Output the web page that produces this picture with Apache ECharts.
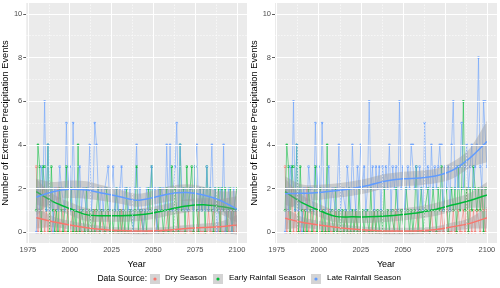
<!DOCTYPE html>
<html><head><meta charset="utf-8">
<script src="https://cdn.jsdelivr.net/npm/echarts@6/dist/echarts.min.js"></script>
<style>html,body{margin:0;padding:0;background:#fff}#c{width:500px;height:288px}</style>
</head><body><div id="c"></div>
<script>
// ---- data ----
const startYear = 1980;
// shared historical part 1980-2014
const histDry   = [3,0,1,0,2, 0,1,0,1,0, 0,1,0,2,0, 0,1,0,0,1, 0,0,1,0,0, 0,1,0,0,0, 1,0,0,0,0];
const histEarly = [1,4,3,0,3, 3,1,4,0,3, 1,0,1,0,2, 1,0,1,3,0, 1,2,0,1,0, 4,0,1,1,0, 2,0,1,0,1];
const histLate  = [0,2,1,3,2, 6,1,4,1,2, 0,2,2,1,3, 2,2,1,5,2, 3,1,5,2,1, 2,3,1,2,2, 1,2,4,1,2];
// left panel 2015-2100
const leftDry   = [1,0,0,0,1, 0,0,0,1,0, 0,0,0,0,0, 0,1,0,0,0, 0,0,0,0,0, 0,0,0,1,0, 0,0,0,0,0, 0,0,1,0,0, 0,0,0,0,1, 0,0,0,0,0, 1,0,0,0,0, 0,1,0,0,0, 0,0,1,0,0, 0,0,0,1,0, 0,1,0,0,0, 1,0,0,0,1, 0,0,1,0,1, 0];
const leftEarly = [0,1,2,0,1, 1,0,2,1,0, 1,0,1,2,0, 1,0,1,0,2, 0,1,1,0,1, 3,0,1,1,0, 1,0,2,1,3, 0,1,1,0,2, 1,0,1,2,0, 1,3,0,2,1, 0,4,1,2,0, 3,1,2,3,0, 3,1,0,2,1, 2,0,3,1,2, 1,0,2,1,2, 0,2,1,2,0, 1,2,0,1,1, 2];
const leftLate  = [5,4,2,1,2, 1,2,2,3,1, 2,3,1,2,1, 2,3,1,2,2, 1,2,1,0,2, 4,1,2,1,0, 1,2,1,2,3, 1,2,0,2,1, 2,2,1,4,1, 4,1,1,3,5, 1,4,2,1,2, 1,1,2,2,1, 3,4,1,2,1, 2,1,3,1,2, 4,1,2,0,1, 2,1,4,0,1, 2,1,0,2,1, 1];
// right panel 2015-2100
const rightDry   = [0,1,0,0,0, 0,0,1,0,0, 0,0,0,0,0, 0,0,0,1,0, 0,0,0,0,0, 0,0,0,0,0, 0,1,0,0,0, 0,0,0,0,0, 0,0,0,0,1, 0,0,0,0,0, 0,0,1,0,0, 0,0,0,1,0, 0,1,0,0,0, 1,0,0,1,0, 0,1,0,2,0, 1,0,1,0,1, 1,0,2,1,0, 1];
const rightEarly = [0,1,0,2,0, 1,0,1,0,2, 0,1,0,1,1, 0,2,0,1,0, 1,0,1,0,2, 0,1,0,1,1, 0,2,1,0,1, 1,0,2,1,0, 1,0,1,3,0, 1,2,0,1,1, 2,0,1,2,1, 0,2,1,3,1, 1,2,0,1,2, 1,2,0,3,1, 2,6,1,2,0, 2,1,3,2,1, 2,1,2,0,2, 2];
const rightLate  = [2,1,3,2,1, 4,2,1,3,2, 4,2,3,1,2, 6,2,3,1,3, 2,3,1,3,2, 3,2,4,1,3, 2,3,1,6,2, 3,1,2,3,2, 4,4,2,3,1, 3,2,1,5,2, 3,1,4,2,3, 2,3,4,4,1, 3,2,3,1,4, 6,2,3,2,3, 5,2,3,4,2, 3,4,2,3,4, 8,3,2,6,6, 3];
// smoothed fits (knots every 10 years, 1980-2100) and half widths of the bands
const smoothYears = [1980,1990,2000,2010,2020,2030,2040,2050,2060,2070,2080,2090,2100];
const leftDryFit    = [0.66,0.47,0.32,0.20,0.12,0.07,0.05,0.06,0.10,0.17,0.21,0.25,0.33];
const leftDryHw     = [0.50,0.25,0.20,0.18,0.15,0.15,0.15,0.15,0.15,0.15,0.18,0.22,0.45];
const leftEarlyFit  = [1.85,1.40,1.08,0.80,0.75,0.75,0.78,0.88,1.05,1.20,1.25,1.17,1.04];
const leftEarlyHw   = [0.60,0.35,0.30,0.30,0.28,0.28,0.28,0.28,0.28,0.30,0.30,0.35,0.60];
const leftLateFit   = [1.60,1.85,1.96,1.93,1.78,1.62,1.46,1.58,1.76,1.81,1.70,1.45,1.05];
const leftLateHw    = [0.85,0.45,0.40,0.40,0.35,0.32,0.30,0.32,0.35,0.38,0.38,0.42,0.85];
const rightDryFit   = [0.63,0.45,0.32,0.22,0.14,0.08,0.05,0.05,0.06,0.12,0.25,0.40,0.66];
const rightDryHw    = [0.50,0.25,0.20,0.18,0.15,0.15,0.15,0.15,0.15,0.15,0.20,0.25,0.50];
const rightEarlyFit = [1.85,1.35,1.00,0.72,0.70,0.70,0.74,0.81,0.90,1.05,1.25,1.45,1.70];
const rightEarlyHw  = [0.60,0.35,0.30,0.28,0.28,0.28,0.28,0.28,0.28,0.30,0.30,0.35,0.60];
const rightLateFit  = [1.76,1.78,1.82,1.90,2.00,2.15,2.34,2.44,2.48,2.58,2.85,3.40,4.15];
const rightLateHw   = [0.80,0.40,0.35,0.33,0.33,0.33,0.33,0.33,0.33,0.33,0.38,0.45,0.95];
// axes
const xTicks = [1975,2000,2025,2050,2075,2100];
const xMinor = [1987.5,2012.5,2037.5,2062.5,2087.5];
const yTicks = [0,2,4,6,8,10];
const yMinor = [1,3,5,7,9];
const seasonNames = ['Dry Season','Early Rainfall Season','Late Rainfall Season'];
const colors = ['#F8766D','#00BA38','#619CFF'];

// ---- build ----
const FONT = 'Liberation Sans, Arial, sans-serif';
function pairs(vals){ return vals.map((v,i)=>[startYear+i, v]); }
// smooth path through pixel points (Catmull-Rom as cubic Bezier)
function curve(pts){
  let d = '';
  for (let i = 0; i < pts.length - 1; i++) {
    const p0 = pts[Math.max(i-1,0)], p1 = pts[i], p2 = pts[i+1], p3 = pts[Math.min(i+2,pts.length-1)];
    const c1x = p1[0] + (p2[0]-p0[0])/6, c1y = p1[1] + (p2[1]-p0[1])/6;
    const c2x = p2[0] - (p3[0]-p1[0])/6, c2y = p2[1] - (p3[1]-p1[1])/6;
    d += ' C' + c1x + ' ' + c1y + ' ' + c2x + ' ' + c2y + ' ' + p2[0] + ' ' + p2[1];
  }
  return d;
}
const panels = [
  { raw:[histDry.concat(leftDry), histEarly.concat(leftEarly), histLate.concat(leftLate)],
    fit:[leftDryFit,leftEarlyFit,leftLateFit], hw:[leftDryHw,leftEarlyHw,leftLateHw] },
  { raw:[histDry.concat(rightDry), histEarly.concat(rightEarly), histLate.concat(rightLate)],
    fit:[rightDryFit,rightEarlyFit,rightLateFit], hw:[rightDryHw,rightEarlyHw,rightLateHw] }
];
const grids = [], xAxes = [], yAxes = [], series = [];
panels.forEach((p, k) => {
  grids.push({left: k===0 ? 25 : 275, top: 3, width: 222, height: 240, show: true,
    backgroundColor: '#EBEBEB', borderWidth: 0});
  xAxes.push({type:'value', gridIndex:k, min:1974, max:2106, name:'Year', nameLocation:'middle', nameGap:17,
    nameTextStyle:{fontFamily:FONT, fontSize:9, color:'#000'},
    axisLine:{show:false}, splitLine:{show:false},
    axisTick:{show:true, customValues:xTicks, length:3, lineStyle:{color:'#333', width:0.8}},
    axisLabel:{customValues:xTicks, formatter:v=>String(v), fontFamily:FONT, fontSize:7.5, color:'#4d4d4d', margin:3}});
  yAxes.push({type:'value', gridIndex:k, min:-0.5, max:10.5, name:'Number of Extreme Precipitation Events',
    nameLocation:'middle', nameRotate:90, nameGap:15, nameTextStyle:{fontFamily:FONT, fontSize:9.3, color:'#000'},
    axisLine:{show:false}, splitLine:{show:false},
    axisTick:{show:true, customValues:yTicks, length:3, lineStyle:{color:'#333', width:0.8}},
    axisLabel:{customValues:yTicks, fontFamily:FONT, fontSize:7.5, color:'#4d4d4d', margin:4}});
  // gridlines
  const major = xTicks.map(v=>({xAxis:v})).concat(yTicks.map(v=>({yAxis:v})));
  const minor = xMinor.map(v=>({xAxis:v})).concat(yMinor.map(v=>({yAxis:v})));
  series.push({type:'line', xAxisIndex:k, yAxisIndex:k, data:[[1974,-5]], symbol:'none', silent:true, z:1,
    lineStyle:{opacity:0},
    markLine:{silent:true, symbol:['none','none'], label:{show:false}, animation:false,
      lineStyle:{color:'#fff', width:1, type:'solid'}, data:major}});
  series.push({type:'line', xAxisIndex:k, yAxisIndex:k, data:[[1974,-5]], symbol:'none', silent:true, z:1,
    lineStyle:{opacity:0},
    markLine:{silent:true, symbol:['none','none'], label:{show:false}, animation:false,
      lineStyle:{color:'#fff', width:0.6, type:[1.5,1.5]}, data:minor}});
  // raw series
  p.raw.forEach((vals, s) => {
    series.push({type:'line', name:seasonNames[s], xAxisIndex:k, yAxisIndex:k, data:pairs(vals), z:2,
      symbol:'circle', symbolSize:2.6, showSymbol:true, animation:false,
      itemStyle:{color:colors[s], opacity:0.8},
      lineStyle:{color:colors[s], width:0.9, opacity:0.6}});
  });
  // confidence ribbons + fitted curves (one item per season)
  series.push({type:'custom', xAxisIndex:k, yAxisIndex:k, z:3, silent:true, animation:false, clip:true,
    data: seasonNames.map((n, s) => [smoothYears[0], p.fit[s][0], s]),
    encode:{x:0, y:1},
    renderItem: function(params, api){
      const s = api.value(2);
      const f = p.fit[s], h = p.hw[s];
      const up = smoothYears.map((yr,i)=>api.coord([yr, f[i]+h[i]]));
      const lo = smoothYears.map((yr,i)=>api.coord([yr, f[i]-h[i]])).reverse();
      const mid = smoothYears.map((yr,i)=>api.coord([yr, f[i]]));
      const ribbon = 'M' + up[0][0] + ' ' + up[0][1] + curve(up) + ' L' + lo[0][0] + ' ' + lo[0][1] + curve(lo) + ' Z';
      const line = 'M' + mid[0][0] + ' ' + mid[0][1] + curve(mid);
      return {type:'group', children:[
        {type:'path', shape:{pathData:ribbon}, style:{fill:'rgba(153,153,153,0.4)', stroke:null}},
        {type:'path', shape:{pathData:line}, style:{fill:null, stroke:colors[s], lineWidth:1.5}}
      ]};
    }});
});

// legend as graphics
const legendY = 279;
const keyX = [150, 213, 311];
const textX = [165, 229, 327];
const graphic = [{type:'text', right:353, top:legendY-5, style:{text:'Data Source:', font:'8.5px '+FONT, fill:'#000'}}];
seasonNames.forEach((n, s) => {
  graphic.push({type:'rect', shape:{x:keyX[s], y:legendY-5, width:10, height:10}, style:{fill:'#D4D4D4'}});
  graphic.push({type:'circle', shape:{cx:keyX[s]+5, cy:legendY, r:1.6}, style:{fill:colors[s]}});
  graphic.push({type:'text', left:textX[s], top:legendY-5, style:{text:n, font:'8px '+FONT, fill:'#000'}});
});

const chart = echarts.init(document.getElementById('c'), null, {renderer:'canvas'});
chart.setOption({animation:false, backgroundColor:'#fff', grid:grids, xAxis:xAxes, yAxis:yAxes, series:series, graphic:graphic});
</script></body></html>
